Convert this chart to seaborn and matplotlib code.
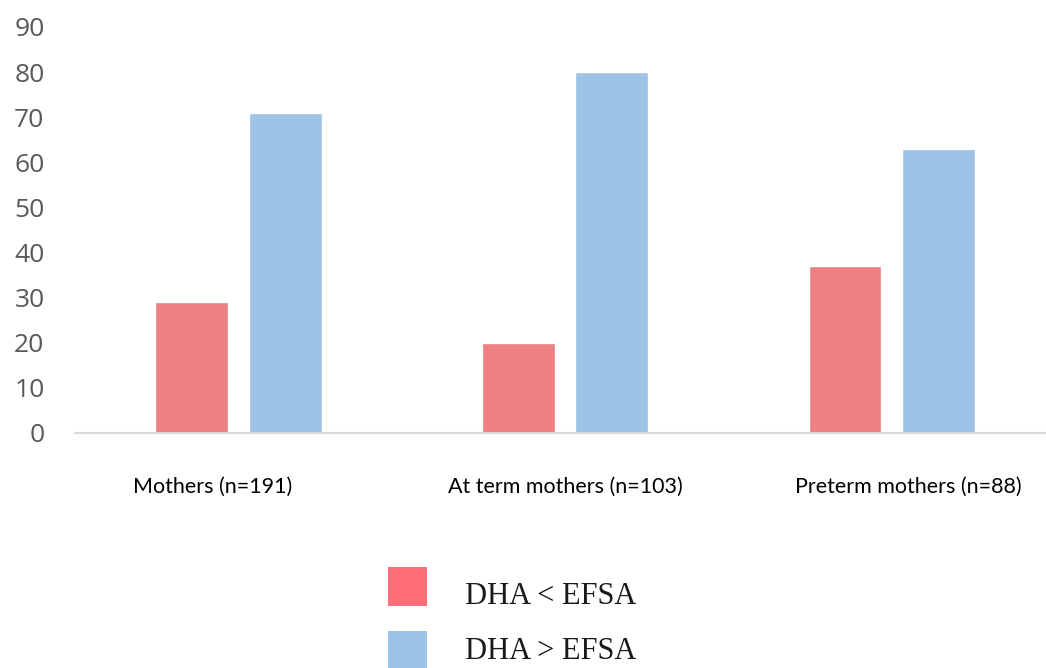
import matplotlib
matplotlib.use("Agg")
import matplotlib.pyplot as plt
from matplotlib.patches import Rectangle
import seaborn as sns
import pandas as pd

groups = ["Mothers (n=191)", "At term mothers (n=103)", "Preterm mothers (n=88)"]
series = ["DHA < EFSA", "DHA > EFSA"]
below_efsa = [29, 20, 37]
above_efsa = [71, 80, 63]
y_ticks = [0, 10, 20, 30, 40, 50, 60, 70, 80, 90]

df = pd.DataFrame({
    "group": groups * 2,
    "series": [series[0]] * 3 + [series[1]] * 3,
    "value": below_efsa + above_efsa,
})

bar_colors = {series[0]: "#EC8083", series[1]: "#9DC3E6"}
legend_colors = ["#FF6E78", "#9DC3E6"]

sns.set_style("white")
fig = plt.figure(figsize=(10.46, 6.68), dpi=100)
ax = fig.add_axes([0.0717, 0.3518, 0.937, 0.6078])

sns.barplot(data=df, x="group", y="value", hue="series", order=groups,
            hue_order=series, palette=bar_colors, width=0.572, gap=0.22,
            ax=ax, legend=False, saturation=1)

ax.set_xlim(-0.5, 2.5)
ax.set_ylim(0, 90)
ax.set_yticks(y_ticks)
ax.set_yticklabels([str(t) for t in y_ticks], fontsize=19, color="#595959",
                   family="Open Sans")
ax.tick_params(axis="y", length=0, pad=22)
ax.set_xticks([])
ax.set_xlabel("")
ax.set_ylabel("")
for side in ["top", "right", "left"]:
    ax.spines[side].set_visible(False)
ax.spines["bottom"].set_color("#D9D9D9")
ax.spines["bottom"].set_linewidth(1.5)

# category labels below the baseline
label_shift = [-0.08, 0.0, 0.05]
for i, (g, s) in enumerate(zip(groups, label_shift)):
    ax.text(i + s, -11.9, g, ha="center", va="center", fontsize=15.5,
            family="Lato", color="#000000")

# key below the chart: colour squares with serif labels
key_w, key_h = 39 / 1046, 39 / 668
key_x = 388 / 1046
key_bottoms = [(668 - 606) / 668, (668 - 670) / 668]
text_baselines = [(668 - 604) / 668, (668 - 659) / 668]
for color, label, yb, yt in zip(legend_colors, series, key_bottoms, text_baselines):
    fig.patches.append(Rectangle((key_x, yb), key_w, key_h, facecolor=color,
                                 edgecolor="none", transform=fig.transFigure,
                                 figure=fig))
    fig.text(465 / 1046, yt, label, ha="left", va="baseline",
             family="Liberation Serif", fontsize=22, color="#1a1a1a")

fig.savefig("out.png", dpi=100)
